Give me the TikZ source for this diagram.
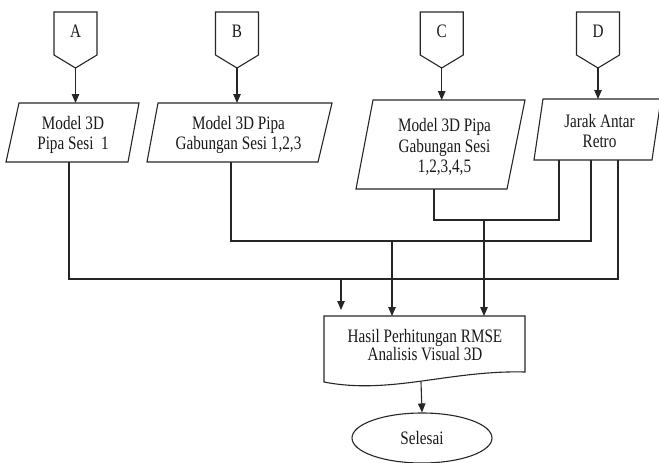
\documentclass[tikz,border=0pt]{standalone}
\usepackage{fontspec}
\setmainfont[FakeStretch=0.8]{Liberation Serif}
\usetikzlibrary{arrows.meta,shapes.geometric}
\begin{document}
\begin{tikzpicture}[x=1pt,y=-1pt,line width=1pt,
  shp/.style={draw=black!85,line width=1.1pt},
  conn/.style={draw=black!85,line width=1.1pt},
  arr/.style={conn,-{Triangle[length=9pt,width=7.5pt]}},
  txt/.style={font=\fontsize{19}{20.5}\selectfont,align=center,inner sep=0pt,text=black!90}]
\useasboundingbox (0,0) rectangle (659,463);
\clip (0,0) rectangle (659,463);
\newcommand\offpg[3]{%
  \draw[shp] (#2-21.5,12) -- (#2+21.5,12) -- (#2+21.5,55) -- (#2,68) -- (#2-21.5,55) -- cycle;
  \node[txt] (#1) at (#2,31) {#3};
  \coordinate (#1tip) at (#2,68);}
% off-page connectors
\offpg{A}{75.5}{A}
\offpg{B}{237}{B}
\offpg{C}{441.7}{C}
\offpg{D}{598}{D}
% parallelograms
\draw[shp] (19,103) -- (139,103) -- (128,162) -- (6,162) -- cycle;
\node[txt] (ma) at (73,135) {Model 3D\\Pipa Sesi\ \ 1};
\draw[shp] (158,103) -- (332,103) -- (318,162) -- (147,162) -- cycle;
\node[txt] (mb) at (238.5,135) {Model 3D Pipa\\Gabungan Sesi 1,2,3};
\draw[shp] (373,100) -- (525,100) -- (507,189) -- (356,189) -- cycle;
\node[txt] (mc) at (444.5,147) {Model 3D Pipa\\Gabungan Sesi\\1,2,3,4,5};
\draw[shp] (543,99) -- (661,99) -- (652,160) -- (534,160) -- cycle;
\node[txt] (md) at (599.5,131) {Jarak Antar\\Retro};
% document
\draw[shp] (324,316) -- (525,316) -- (525,372) .. controls (450,370) and (390,395) .. (324,382) -- cycle;
\node[txt,font=\fontsize{19}{18.5}\selectfont] (hasil) at (425,345) {Hasil Perhitungan RMSE\\Analisis Visual 3D};
% terminator
\node[shp,ellipse,minimum width=140pt,minimum height=50pt,inner sep=0pt,font=\fontsize{19}{20}\selectfont,text=black!90] (end) at (422,438) {Selesai};
% anchor coordinates
\coordinate (aTop) at (75.5,103);
\coordinate (bTop) at (237,103);
\coordinate (cTop) at (441.7,100);
\coordinate (dTop) at (598,99);
\coordinate (aS) at (69,162);
\coordinate (bS) at (231,162);
\coordinate (cS) at (434,189);
\coordinate (dS1) at (559,160);
\coordinate (dS2) at (591,160);
\coordinate (dS3) at (618,160);
\coordinate (r1) at (559,220);
\coordinate (r2) at (591,241);
\coordinate (r3) at (618,279);
\coordinate (t1) at (341,279);
\coordinate (t2) at (392,241);
\coordinate (t3) at (484,220);
\coordinate (h1) at (341,310);
\coordinate (h2) at (392,316);
\coordinate (h3) at (484,316);
\coordinate (hB) at (421,382);
% arrows from off-page connectors
\draw[arr] (Atip) -- (aTop);
\draw[arr] (Btip) -- (bTop);
\draw[arr] (Ctip) -- (cTop);
\draw[arr] (Dtip) -- (dTop);
% merging lines
\draw[conn] (aS) |- (r3) -- (dS3);
\draw[conn] (bS) |- (r2) -- (dS2);
\draw[conn] (cS) |- (r1) -- (dS1);
\draw[arr] (t1) -- (h1);
\draw[arr] (t2) -- (h2);
\draw[arr] (t3) -- (h3);
\draw[arr] (hB) -- (end.north);
\end{tikzpicture}
\end{document}
